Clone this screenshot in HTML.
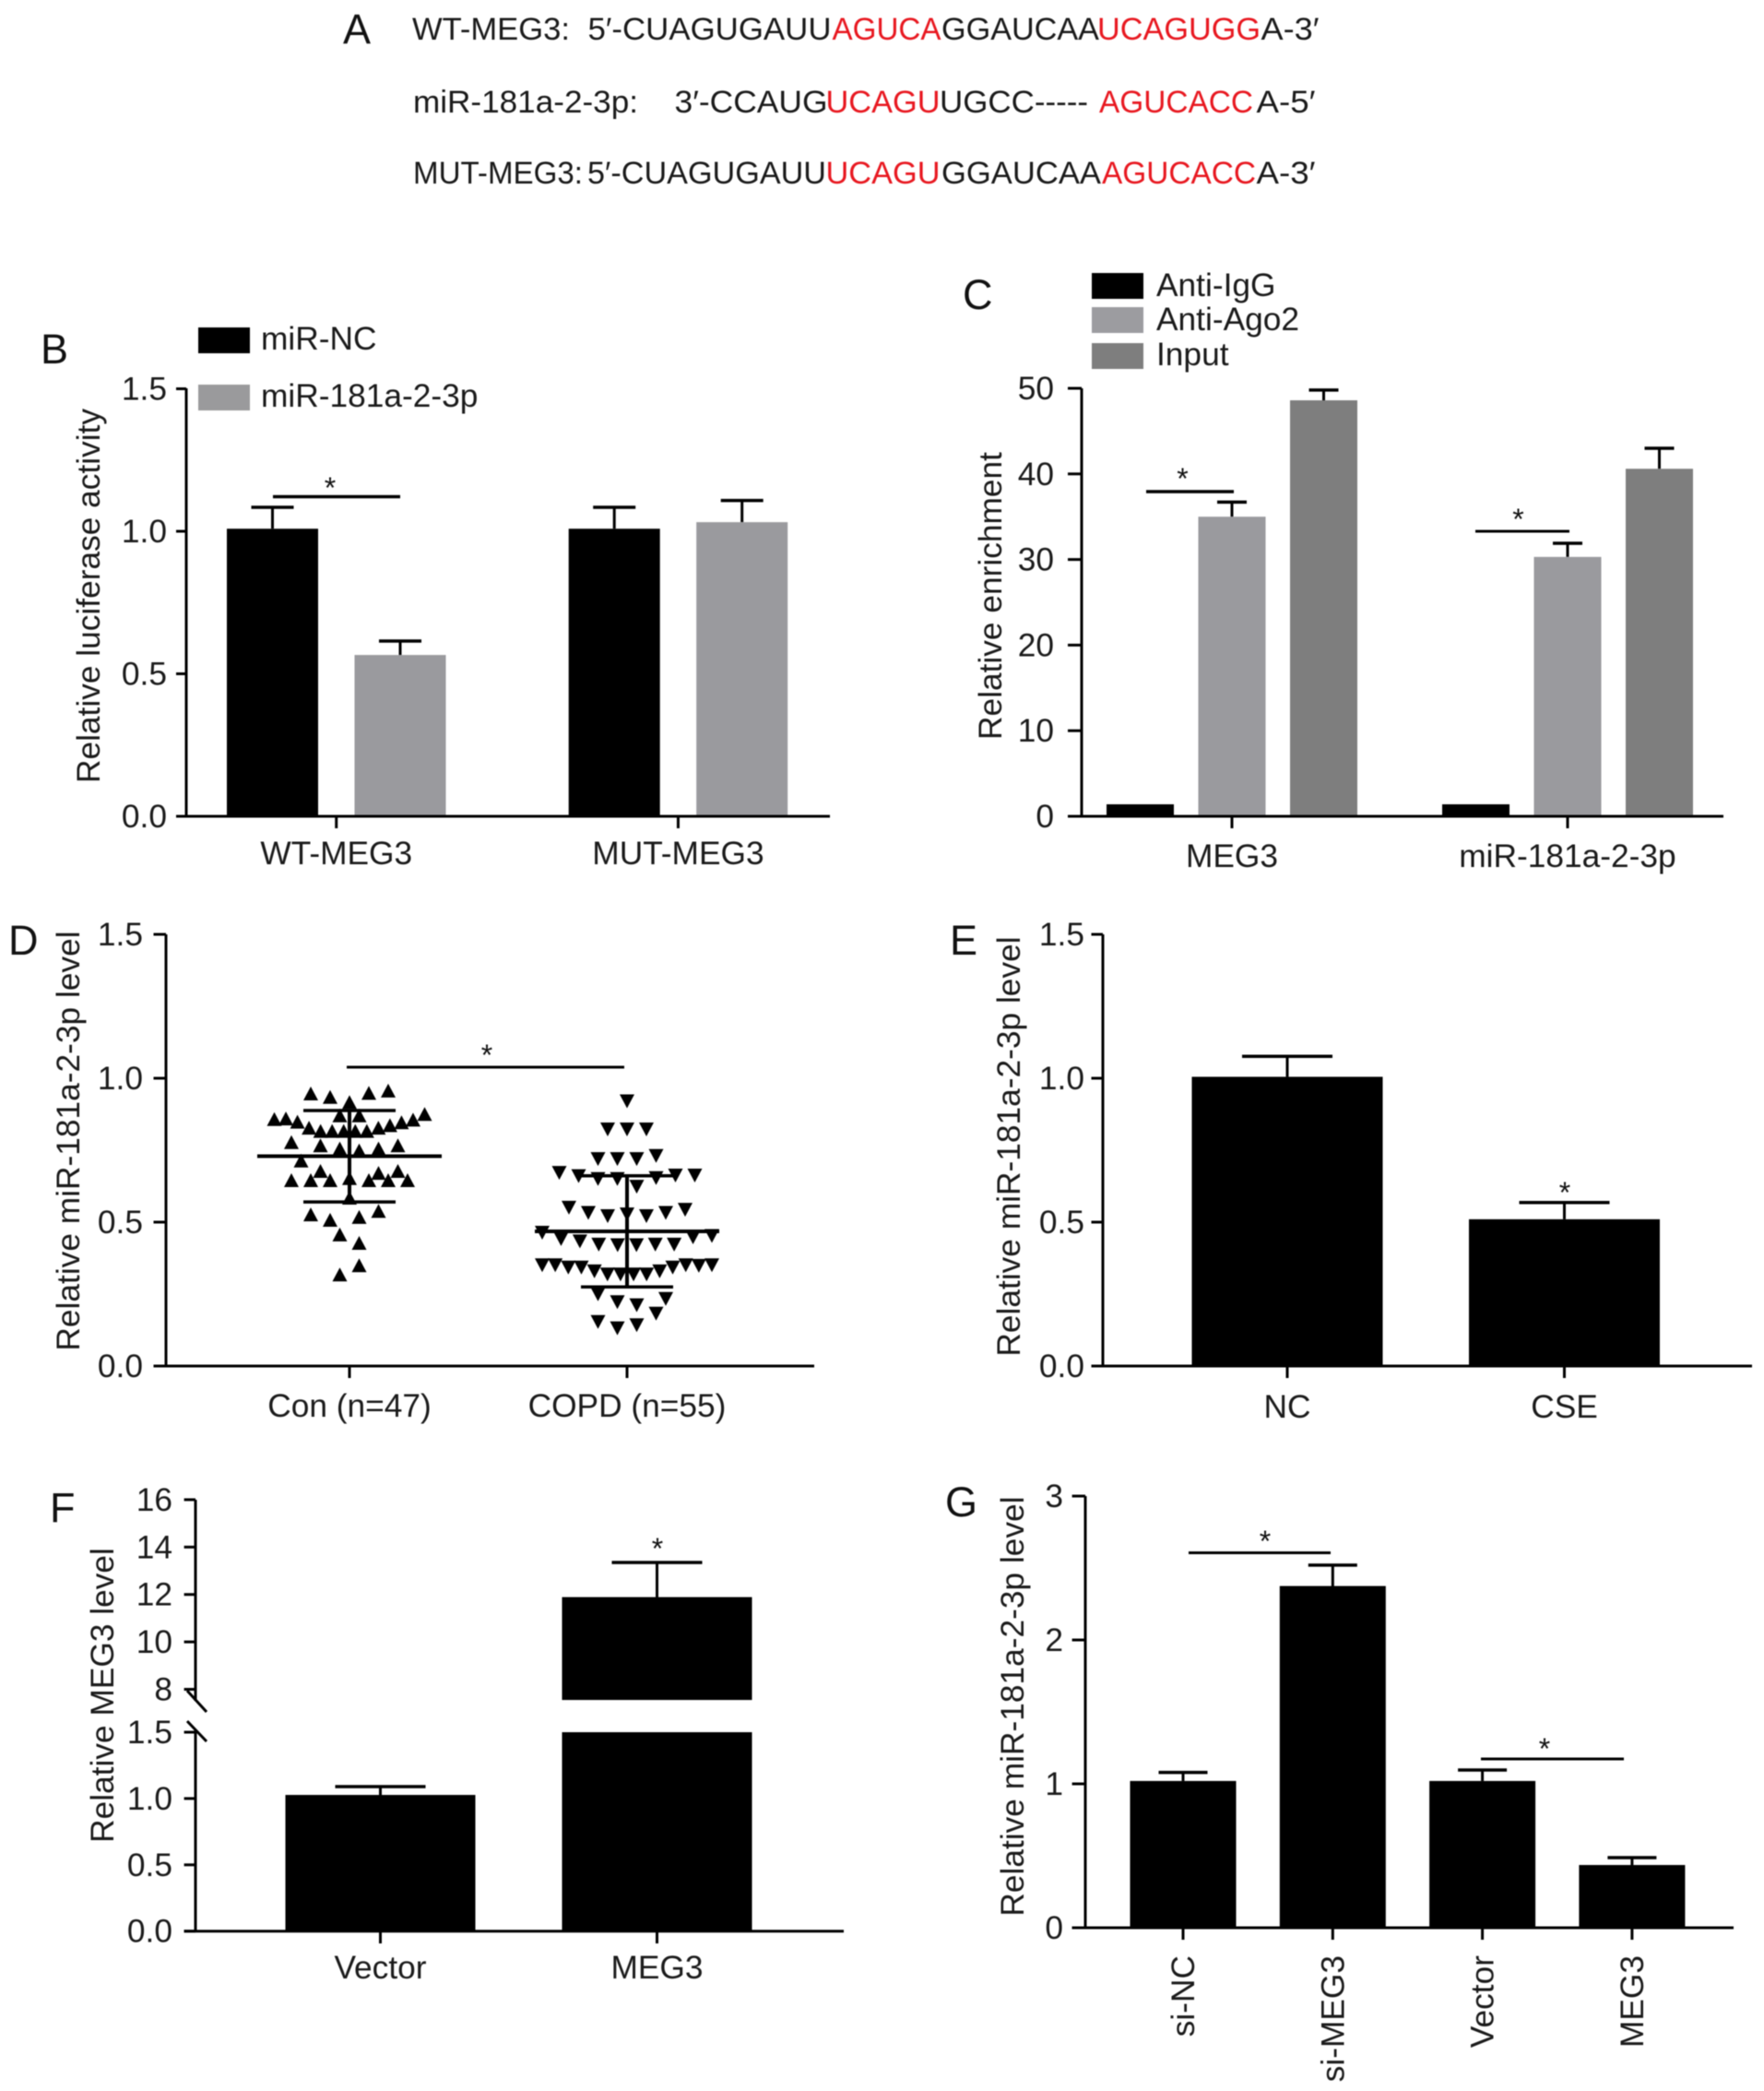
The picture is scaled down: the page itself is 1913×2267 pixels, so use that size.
<!DOCTYPE html>
<html lang="en">
<head>
<meta charset="utf-8">
<title>MEG3 and miR-181a-2-3p figure</title>
<style>
  html, body { margin: 0; padding: 0; background: #fff; }
  body { width: 1913px; height: 2267px; overflow: hidden; }
  svg { display: block; filter: blur(0.6px); }
  text { font-family: "Liberation Sans", Arial, sans-serif; font-size: 35.3px; fill: #1a1a1a; }
  .seq { font-size: 34.5px; }
  .red { fill: #e8171f; }
  .letter { font-size: 45px; fill: #111; }
  .star { font-size: 32px; text-anchor: middle; fill: #111; }
  .mid { text-anchor: middle; }
</style>
</head>
<body>
<svg id="figure" xmlns="http://www.w3.org/2000/svg" width="1913" height="2267" viewBox="0 0 1913 2267">
  <rect width="1913" height="2267" fill="#fff"/>

  <g id="panel-a" lengthAdjust="spacingAndGlyphs">
    <text class="letter" x="372" y="47">A</text>
    <text class="seq" x="447" y="43" textLength="171" lengthAdjust="spacingAndGlyphs">WT-MEG3:</text>
    <text class="seq" x="637.5" y="43" textLength="264" lengthAdjust="spacingAndGlyphs">5′-CUAGUGAUU</text>
    <text class="seq red" x="902.5" y="43" textLength="118" lengthAdjust="spacingAndGlyphs">AGUCA</text>
    <text class="seq" x="1021" y="43" textLength="171" lengthAdjust="spacingAndGlyphs">GGAUCAA</text>
    <text class="seq red" x="1190" y="43" textLength="177" lengthAdjust="spacingAndGlyphs">UCAGUGG</text>
    <text class="seq" x="1367.5" y="43" textLength="63" lengthAdjust="spacingAndGlyphs">A-3′</text>

    <text class="seq" x="448" y="122" textLength="244" lengthAdjust="spacingAndGlyphs">miR-181a-2-3p:</text>
    <text class="seq" x="731.5" y="122" textLength="166" lengthAdjust="spacingAndGlyphs">3′-CCAUG</text>
    <text class="seq red" x="895.5" y="122" textLength="124" lengthAdjust="spacingAndGlyphs">UCAGU</text>
    <text class="seq" x="1019" y="122" textLength="161" lengthAdjust="spacingAndGlyphs">UGCC-----</text>
    <text class="seq red" x="1192" y="122" textLength="167" lengthAdjust="spacingAndGlyphs">AGUCACC</text>
    <text class="seq" x="1362.5" y="122" textLength="64" lengthAdjust="spacingAndGlyphs">A-5′</text>

    <text class="seq" x="448" y="199" textLength="184" lengthAdjust="spacingAndGlyphs">MUT-MEG3:</text>
    <text class="seq" x="637" y="199" textLength="259" lengthAdjust="spacingAndGlyphs">5′-CUAGUGAUU</text>
    <text class="seq red" x="895.5" y="199" textLength="124" lengthAdjust="spacingAndGlyphs">UCAGU</text>
    <text class="seq" x="1021" y="199" textLength="173" lengthAdjust="spacingAndGlyphs">GGAUCAA</text>
    <text class="seq red" x="1195" y="199" textLength="167" lengthAdjust="spacingAndGlyphs">AGUCACC</text>
    <text class="seq" x="1362.5" y="199" textLength="64" lengthAdjust="spacingAndGlyphs">A-3′</text>
  </g>

  <g id="panel-b">
    <text class="letter" x="44" y="394">B</text>
    <text x="108" y="646" class="mid" transform="rotate(-90 108 646)">Relative luciferase activity</text>
    <rect x="215" y="355" width="56" height="28" fill="#000"/>
    <text x="283" y="379">miR-NC</text>
    <rect x="215" y="417" width="56" height="28" fill="#9a9a9c"/>
    <text x="283" y="441">miR-181a-2-3p</text>
  </g>

  <g id="panel-c">
    <text class="letter" x="1044" y="335">C</text>
    <text x="1086" y="646" class="mid" transform="rotate(-90 1086 646)">Relative enrichment</text>
    <rect x="1184" y="296" width="56" height="28" fill="#000"/>
    <text x="1254" y="321">Anti-IgG</text>
    <rect x="1184" y="333" width="56" height="28" fill="#9c9ca0"/>
    <text x="1254" y="358">Anti-Ago2</text>
    <rect x="1184" y="372" width="56" height="28" fill="#7e7e7e"/>
    <text x="1254" y="396">Input</text>
  </g>

  <g id="panel-d">
    <text class="letter" x="9" y="1035">D</text>
    <text x="86" y="1237" class="mid" transform="rotate(-90 86 1237)">Relative miR-181a-2-3p level</text>
  </g>

  <g id="panel-e">
    <text class="letter" x="1030" y="1035">E</text>
    <text x="1106" y="1243" class="mid" transform="rotate(-90 1106 1243)">Relative miR-181a-2-3p level</text>
  </g>

  <g id="panel-f">
    <text class="letter" x="54" y="1650">F</text>
    <text x="123" y="1838" class="mid" transform="rotate(-90 123 1838)">Relative MEG3 level</text>
  </g>

  <g id="panel-g">
    <text class="letter" x="1025" y="1644">G</text>
    <text x="1110" y="1850" class="mid" transform="rotate(-90 1110 1850)">Relative miR-181a-2-3p level</text>
  </g>
</svg>

<script>
// ---- Panel B data ----
const bCategories = ['WT-MEG3', 'MUT-MEG3'];
const bTicks = ['0.0', '0.5', '1.0', '1.5'];
const bNc = [1.009, 1.009];
const bNcErr = [0.075, 0.075];
const bMir = [0.566, 1.032];
const bMirErr = [0.049, 0.076];

// ---- Panel C data ----
const cCategories = ['MEG3', 'miR-181a-2-3p'];
const cTicks = ['0', '10', '20', '30', '40', '50'];
const cIgg = [1.4, 1.4];
const cAgo2 = [35, 30.3];
const cAgo2Err = [1.7, 1.6];
const cInput = [48.6, 40.6];
const cInputErr = [1.2, 2.4];

// ---- Panel D data (rows listed left to right; null = empty swarm column) ----
const dCategories = ['Con (n=47)', 'COPD (n=55)'];
const dTicks = ['0.0', '0.5', '1.0', '1.5'];
const conRows = [
  [0.947, 0.935, 0.917, 0.949, 0.957],
  [0.871, 0.871],
  [0.858, 0.860, 0.849, 0.828, 0.817, 0.817, 0.817, 0.817, 0.817, 0.828, 0.837, 0.847, 0.856, 0.876],
  [0.778, null, null, null, null, null, null],
  [0.714, 0.767, 0.756, 0.749, 0.756, 0.767],
  [0.646, 0.646, 0.646, 0.653, 0.646, 0.646, 0.646],
  [null, 0.678, null, null, 0.671, 0.678],
  [0.585],
  [null, 0.527, 0.508, null, null, null, null],
  [null, null, null, 0.518, 0.539, null],
  [0.457, 0.428],
  [0.318, 0.350]
];
const copdRows = [
  [0.920],
  [0.822, 0.822, 0.822],
  [0.719, 0.719, 0.719, 0.730],
  [0.671, 0.660, 0.650, 0.650, 0.623, 0.653, 0.662, 0.662],
  [0.550, 0.532, 0.521, 0.527, 0.521, 0.532, 0.543],
  [0.463, 0.441, 0.433, 0.422, 0.420, 0.420, 0.422, 0.422, 0.447, 0.452],
  [0.350, 0.350, 0.342, 0.342, 0.329, 0.318, 0.318, 0.318, 0.318, 0.329, 0.342, 0.350, 0.348, 0.350],
  [0.249, 0.222, 0.211, 0.182],
  [null, null, null, null, 0.233],
  [0.153, 0.131, 0.142, null]
];
const dMeans = [0.729, 0.468];
const dSds = [0.159, 0.193];

// ---- Panel E data ----
const eCategories = ['NC', 'CSE'];
const eTicks = ['0.0', '0.5', '1.0', '1.5'];
const eValues = [1.005, 0.51];
const eErr = [0.071, 0.058];

// ---- Panel F data ----
const fCategories = ['Vector', 'MEG3'];
const fLowerTicks = ['0.0', '0.5', '1.0', '1.5'];
const fUpperTicks = ['8', '10', '12', '14', '16'];
const fValues = [1.027, 11.89];
const fErr = [0.063, 1.46];

// ---- Panel G data ----
const gCategories = ['si-NC', 'si-MEG3', 'Vector', 'MEG3'];
const gTicks = ['0', '1', '2', '3'];
const gValues = [1.02, 2.375, 1.02, 0.436];
const gErr = [0.059, 0.145, 0.076, 0.051];

// ---- Drawing helpers ----
const SVG_NS = 'http://www.w3.org/2000/svg';

function make(tag, attrs, parent) {
  const el = document.createElementNS(SVG_NS, tag);
  Object.keys(attrs).forEach(function (k) { el.setAttribute(k, attrs[k]); });
  parent.appendChild(el);
  return el;
}

function drawLine(parent, x1, y1, x2, y2, width, name) {
  const el = make('line', { x1: x1, y1: y1, x2: x2, y2: y2, stroke: '#000', 'stroke-width': width }, parent);
  
  
  return el;
}

function drawRect(parent, x, yTop, width, yBottom, fill, name) {
  const el = make('rect', { x: x, y: yTop, width: width, height: yBottom - yTop, fill: fill }, parent);
  
  
  return el;
}

function drawText(parent, x, y, anchor, str, name, rotate) {
  const attrs = { x: x, y: y, 'text-anchor': anchor };
  if (rotate) attrs.transform = 'rotate(-90 ' + x + ' ' + y + ')';
  const el = make('text', attrs, parent);
  el.textContent = str;
  
  
  return el;
}

function drawStar(parent, x, cy, name) {
  const el = make('text', { x: x, y: cy + 15, class: 'star' }, parent);
  el.textContent = '*';
  
  
  return el;
}

function drawYAxis(parent, axisX, tickLeft, yFn, labels, labelRight, suffix) {
  labels.forEach(function (label) {
    const y = yFn(parseFloat(label));
    drawLine(parent, tickLeft, y, axisX, y, 3, 'y-tick-' + suffix + '-' + label);
    drawText(parent, labelRight, y + 12, 'end', label, 'y-tick-label-' + suffix + '-' + label);
  });
}

function drawXTicks(parent, centers, y0, tickBottom, labels, labelBaseline, suffix) {
  labels.forEach(function (label, i) {
    drawLine(parent, centers[i], y0, centers[i], tickBottom, 3, 'x-tick-' + suffix + '-' + label);
    drawText(parent, centers[i], labelBaseline, 'middle', label, 'x-tick-label-' + suffix + '-' + label);
  });
}

function drawErrorBar(parent, cx, yTop, yCap, halfCap, name) {
  drawLine(parent, cx, yTop, cx, yCap, 3, 'error-stem-' + name);
  drawLine(parent, cx - halfCap, yCap, cx + halfCap, yCap, 3.5, 'error-cap-' + name);
}

function drawBar(parent, cx, width, value, err, yFn, fill, halfCap, name) {
  if (err > 0) drawErrorBar(parent, cx, yFn(value), yFn(value + err), halfCap, name);
  drawRect(parent, cx - width / 2, yFn(value), width, yFn(0), fill, 'bar-' + name);
}

// ---- Panel B ----
(function () {
  const p = document.getElementById('panel-b');
  const y = function (v) { return 885 - v * 309; };
  const barX = function (group, series) { return 295.5 + group * 370.7 + series * 138.5; };
  const centers = bCategories.map(function (_, i) { return barX(i, 0.5); });
  bCategories.forEach(function (cat, i) {
    drawBar(p, barX(i, 0), 99, bNc[i], bNcErr[i], y, '#000', 23, cat + '-mir-nc');
    drawBar(p, barX(i, 1), 99, bMir[i], bMirErr[i], y, '#9a9a9e', 23, cat + '-mir-181a');
  });
  drawLine(p, 202, 421, 202, 886, 3, 'y-axis-b');
  drawLine(p, 191, 885, 900, 885, 3, 'x-axis-b');
  drawYAxis(p, 202, 191, y, bTicks, 181, 'b');
  drawXTicks(p, centers, 885, 898, bCategories, 937, 'b');
  drawLine(p, 296, 538.5, 434, 538.5, 3.5, 'significance-line-b');
  drawStar(p, 358, 525, 'significance-star-b');
})();

// ---- Panel C ----
(function () {
  const p = document.getElementById('panel-c');
  const y = function (v) { return 885 - v * 9.28; };
  const barX = function (group, series) { return 1236.5 + group * 364 + series * 99.5; };
  const centers = cCategories.map(function (_, i) { return barX(i, 1); });
  cCategories.forEach(function (cat, i) {
    drawBar(p, barX(i, 0), 73, cIgg[i], 0, y, '#000', 16, cat + '-anti-igg');
    drawBar(p, barX(i, 1), 73, cAgo2[i], cAgo2Err[i], y, '#9a9a9e', 16, cat + '-anti-ago2');
    drawBar(p, barX(i, 2), 73, cInput[i], cInputErr[i], y, '#7e7e7e', 16, cat + '-input');
  });
  drawLine(p, 1173, 421, 1173, 886, 3, 'y-axis-c');
  drawLine(p, 1158, 885, 1869, 885, 3, 'x-axis-c');
  drawYAxis(p, 1173, 1158, y, cTicks, 1143, 'c');
  drawXTicks(p, centers, 885, 898, cCategories, 940, 'c');
  drawLine(p, 1243, 533, 1338, 533, 3.5, 'significance-line-c-meg3');
  drawStar(p, 1282.5, 515, 'significance-star-c-meg3');
  drawLine(p, 1600, 576, 1702, 576, 3, 'significance-line-c-mir');
  drawStar(p, 1646.5, 559, 'significance-star-c-mir');
})();

// ---- Panel D ----
(function () {
  const p = document.getElementById('panel-d');
  const y = function (v) { return 1481 - v * 312; };
  const centers = [379, 680];
  const maxWidths = [163, 184];
  const groups = [conRows, copdRows];
  const halfW = 8;
  const halfH = 7.5;

  groups.forEach(function (rows, g) {
    const dir = g === 0 ? -1 : 1;
    rows.forEach(function (row, r) {
      const n = row.length;
      const step = n > 1 ? Math.min(21, maxWidths[g] / (n - 1)) : 0;
      row.forEach(function (v, i) {
        if (v === null) return;
        const cx = centers[g] + (i - (n - 1) / 2) * step;
        const cy = y(v);
        const pts = [cx, cy + dir * halfH, cx - halfW, cy - dir * halfH, cx + halfW, cy - dir * halfH].join(' ');
        const el = make('polygon', { points: pts, fill: '#000' }, p);
        
        
      });
    });
  });

  dCategories.forEach(function (_, g) {
    const name = g === 0 ? 'con' : 'copd';
    const cx = centers[g];
    const upper = y(dMeans[g] + dSds[g]);
    const lower = y(dMeans[g] - dSds[g]);
    drawLine(p, cx, upper, cx, lower, 4, 'sd-stem-' + name);
    drawLine(p, cx - 50, upper, cx + 50, upper, 3.5, 'sd-upper-' + name);
    drawLine(p, cx - 50, lower, cx + 50, lower, 3.5, 'sd-lower-' + name);
    drawLine(p, cx - 100, y(dMeans[g]), cx + 100, y(dMeans[g]), 4, 'mean-line-' + name);
  });

  drawLine(p, 180, 1013, 180, 1482, 3, 'y-axis-d');
  drawLine(p, 166.5, 1481, 883, 1481, 3, 'x-axis-d');
  drawYAxis(p, 180, 166.5, y, dTicks, 155, 'd');
  drawXTicks(p, centers, 1481, 1494, dCategories, 1536, 'd');
  drawLine(p, 376, 1157, 677, 1157, 3, 'significance-line-d');
  drawStar(p, 528, 1140, 'significance-star-d');
})();

// ---- Panel E ----
(function () {
  const p = document.getElementById('panel-e');
  const y = function (v) { return 1481 - v * 312; };
  const centers = eCategories.map(function (_, i) { return 1396 + i * 300.5; });
  eCategories.forEach(function (cat, i) {
    drawBar(p, centers[i], 207, eValues[i], eErr[i], y, '#000', 49, 'e-' + cat);
  });
  drawLine(p, 1196, 1013, 1196, 1482, 3, 'y-axis-e');
  drawLine(p, 1183.5, 1481, 1900, 1481, 3, 'x-axis-e');
  drawYAxis(p, 1196, 1183.5, y, eTicks, 1176, 'e');
  drawXTicks(p, centers, 1481, 1494, eCategories, 1537, 'e');
  drawStar(p, 1697, 1289, 'significance-star-e');
})();

// ---- Panel F (broken y axis) ----
(function () {
  const p = document.getElementById('panel-f');
  const lowerMax = 1.5;
  const upperMin = 7.55;
  const y = function (v) {
    return v <= lowerMax ? 2093.7 - v * 143.8 : 1831.5 - (v - 8) * 25.7;
  };
  const centers = fCategories.map(function (_, i) { return 412.5 + i * 300; });
  fCategories.forEach(function (cat, i) {
    const cx = centers[i];
    const v = fValues[i];
    drawErrorBar(p, cx, y(v), y(v + fErr[i]), 49, 'f-' + cat);
    if (v <= lowerMax) {
      drawRect(p, cx - 103, y(v), 206, y(0), '#000', 'bar-f-' + cat);
    } else {
      drawRect(p, cx - 103, y(v), 206, y(upperMin), '#000', 'bar-f-upper-' + cat);
      drawRect(p, cx - 103, y(lowerMax), 206, y(0), '#000', 'bar-f-lower-' + cat);
    }
  });
  drawLine(p, 212, 1626, 212, 1844, 3, 'y-axis-f-upper');
  drawLine(p, 212, 1876, 212, 2095, 3, 'y-axis-f-lower');
  drawLine(p, 203, 1833, 224, 1856, 3, 'axis-break-upper');
  drawLine(p, 203, 1866, 224, 1888, 3, 'axis-break-lower');
  drawLine(p, 199.6, 2093.7, 915, 2093.7, 3, 'x-axis-f');
  drawYAxis(p, 212, 199.6, y, fUpperTicks, 187, 'f-upper');
  drawYAxis(p, 212, 199.6, y, fLowerTicks, 187, 'f-lower');
  drawXTicks(p, centers, 2093.7, 2107, fCategories, 2145, 'f');
  drawStar(p, 713, 1675, 'significance-star-f');
})();

// ---- Panel G ----
(function () {
  const p = document.getElementById('panel-g');
  const y = function (v) { return 2090 - v * 156; };
  const centers = gCategories.map(function (_, i) { return 1283 + i * 162.3; });
  gCategories.forEach(function (cat, i) {
    drawBar(p, centers[i], 115, gValues[i], gErr[i], y, '#000', 26.5, 'g-' + cat);
    drawLine(p, centers[i], 2090, centers[i], 2103, 3, 'x-tick-g-' + cat);
    drawText(p, centers[i] + 12, 2120, 'end', cat, 'x-tick-label-g-' + cat, true);
  });
  drawLine(p, 1177, 1622, 1177, 2091, 3, 'y-axis-g');
  drawLine(p, 1162.6, 2090, 1880, 2090, 3, 'x-axis-g');
  drawYAxis(p, 1177, 1162.6, y, gTicks, 1153, 'g');
  drawLine(p, 1289, 1683.5, 1443, 1683.5, 3, 'significance-line-g-knockdown');
  drawStar(p, 1372, 1667, 'significance-star-g-knockdown');
  drawLine(p, 1606, 1907, 1761, 1907, 3, 'significance-line-g-overexpression');
  drawStar(p, 1675, 1892, 'significance-star-g-overexpression');
})();
</script>
</body>
</html>
